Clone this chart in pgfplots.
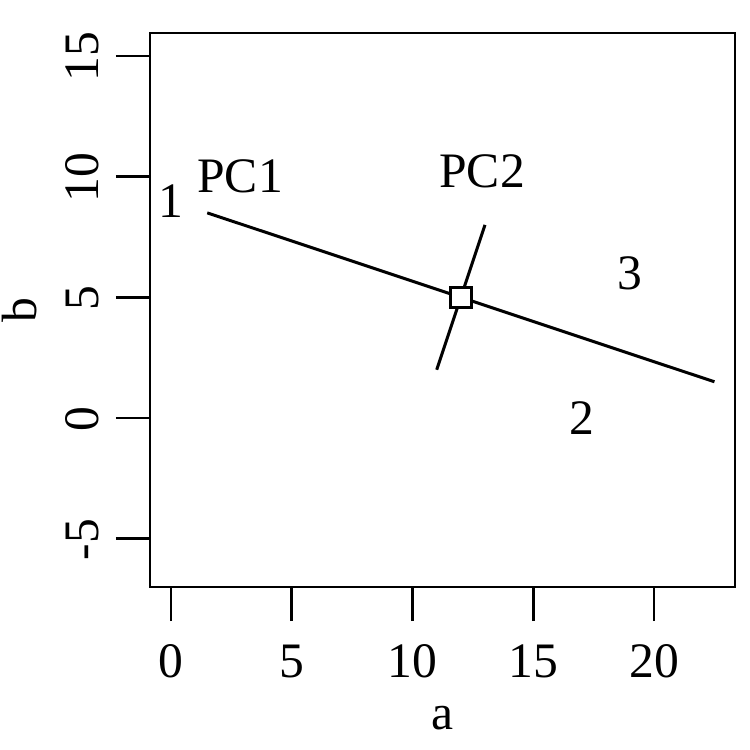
\documentclass[border=0pt]{standalone}
\usepackage{fontspec}
\setmainfont{Liberation Serif}
\usepackage{pgfplots}
\pgfplotsset{compat=1.18}
\begin{document}
\fontsize{24.8}{29}\selectfont
\begin{tikzpicture}
\begin{axis}[
  name=ax,
  scale only axis,
  width=292.5pt, height=277pt,
  xmin=-0.87, xmax=23.35, ymin=-7.0, ymax=15.95,
  axis line style={line width=1.35pt},
  xtick={0,5,10,15,20}, ytick={-5,0,5,10,15},
  xticklabels={0,5,10,15,20}, yticklabels={-5,0,5,10,15},
  tick pos=left, tick align=outside,
  major tick length=17pt,
  tick style={line width=1.35pt, black},
  xticklabel style={anchor=north, yshift=-3.5pt},
  yticklabel style={rotate=90, anchor=south, xshift=-0.5pt},
  xlabel={a}, ylabel={b},
  xlabel style={at={(axis description cs:0.5,0)}, anchor=center, yshift=-65.5pt},
  ylabel style={at={(axis description cs:0,0.5)}, anchor=center, yshift=65pt},
  clip=false,
]
% principal component axes
\addplot[black, line width=1.5pt] coordinates {(1.5,8.5) (22.5,1.5)};
\addplot[black, line width=1.5pt] coordinates {(11,2) (13,8)};
% centroid
\addplot[only marks, mark=square*, mark size=5.1pt,
  mark options={fill=white, draw=black, line width=1.5pt}] coordinates {(12,5)};
% point labels
\addplot[only marks, mark=none, nodes near coords, point meta=explicit symbolic,
  nodes near coords align={center}]
  coordinates {(0,9) [1] (17,0) [2] (19,6) [3] (2.86,10.03) [PC1] (12.88,10.24) [PC2]};
\end{axis}
\pgfresetboundingbox
\path[use as bounding box] ([shift={(-75pt,-81.5pt)}]ax.south west)
  rectangle ([shift={(7.5pt,16.5pt)}]ax.north east);
\end{tikzpicture}
\end{document}
